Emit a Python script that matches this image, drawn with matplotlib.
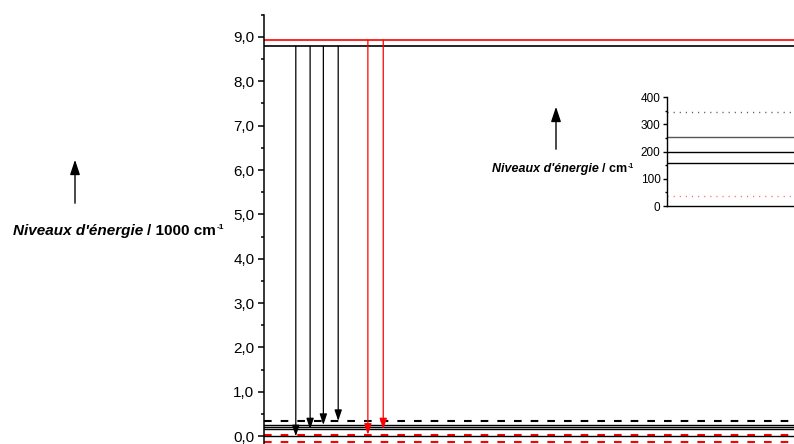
import numpy as np
import matplotlib
matplotlib.use("Agg")
import matplotlib.pyplot as plt
from matplotlib.ticker import MultipleLocator, FuncFormatter

plt.rcParams['font.family'] = ['Liberation Sans', 'DejaVu Sans']
plt.rcParams['lines.scale_dashes'] = False

# energy levels, cm-1
upper_levels = [8930, 8790]
upper_colors = ['red', 'black']
low_levels = [345, 255, 200, 157, 35, 0, -120]
low_colors = ['black', 'black', 'black', 'black', 'red', 'black', 'red']
low_styles = ['dash', 'solid', 'solid', 'solid', 'dash', 'solid', 'dash']

# transitions (arrows)
arrow_x = [6.0, 8.7, 11.2, 14.0, 19.6, 22.5]
arrow_from = [8790, 8790, 8790, 8790, 8930, 8930]
arrow_to = [0, 157, 255, 345, 35, 157]
arrow_colors = ['black', 'black', 'black', 'black', 'red', 'red']

# inset levels, cm-1
inset_levels = [345, 255, 200, 157, 35]
inset_colors = ['#555555', '#555555', 'black', 'black', '#ff6666']
inset_styles = ['dot', 'solid', 'solid', 'solid', 'dot']

fig = plt.figure(figsize=(7.94, 4.44), dpi=100)

ax = fig.add_axes([264 / 794, 0.0, 530 / 794, (444 - 14.7) / 444])
ax.set_xlim(0, 100)
ax.set_ylim(-0.175, 9.5)
for s in ['top', 'right', 'bottom']:
    ax.spines[s].set_visible(False)
ax.spines['left'].set_linewidth(1.1)
ax.set_xticks([])
ax.yaxis.set_major_locator(MultipleLocator(1.0))
ax.yaxis.set_minor_locator(MultipleLocator(0.5))
ax.yaxis.set_major_formatter(FuncFormatter(lambda v, _: f"{v:.1f}".replace('.', ',')))
ax.tick_params(axis='y', which='major', length=4, width=1.1, labelsize=11, pad=3)
ax.tick_params(axis='y', which='minor', length=2.5, width=1.1)

for e, c in zip(upper_levels, upper_colors):
    ax.axhline(e / 1000, color=c, lw=1.2)

for e, c, st in zip(low_levels, low_colors, low_styles):
    if st == 'dash':
        ax.axhline(e / 1000, color=c, lw=1.5, linestyle=(0, (5.5, 6.5)))
    else:
        ax.axhline(e / 1000, color=c, lw=1.0)

for x, y0, y1, c in zip(arrow_x, arrow_from, arrow_to, arrow_colors):
    ax.annotate('', xy=(x, y1 / 1000), xytext=(x, y0 / 1000),
                arrowprops=dict(arrowstyle='-|>,head_length=0.65,head_width=0.22',
                                color=c, lw=0.9, shrinkA=0, shrinkB=0))

# inset
ins = fig.add_axes([666.7 / 794, (444 - 206) / 444, (794 - 666.7) / 794, (206 - 97.3) / 444])
ins.set_xlim(0, 10)
ins.set_ylim(0, 400)
for s in ['top', 'right']:
    ins.spines[s].set_visible(False)
ins.spines['left'].set_linewidth(1.0)
ins.spines['bottom'].set_linewidth(1.0)
ins.set_xticks([])
ins.yaxis.set_major_locator(MultipleLocator(100))
ins.yaxis.set_minor_locator(MultipleLocator(50))
ins.tick_params(axis='y', which='major', length=3, width=1.0, labelsize=8.5, pad=1.5)
ins.tick_params(axis='y', which='minor', length=1.5, width=1.0)
for e, c, st in zip(inset_levels, inset_colors, inset_styles):
    if st == 'dot':
        ins.axhline(e, color=c, lw=1.0, linestyle=(0, (0.8, 3.6)))
    else:
        ins.axhline(e, color=c, lw=1.0)

# axis labels with arrows
def level_label(x, y, size, tail):
    t1 = fig.text(x, y, "Niveaux d'énergie", fontsize=size, fontweight='bold',
                  fontstyle='italic', ha='left', va='baseline')
    t2 = plt.annotate(tail, xy=(1, 0), xycoords=t1, xytext=(size * 0.28, 0),
                      textcoords='offset points', fontsize=size, fontweight='bold',
                      ha='left', va='bottom')
    plt.annotate('-1', xy=(1, 1), xycoords=t2, xytext=(0.5, 0),
                 textcoords='offset points', fontsize=size * 0.55, fontweight='bold',
                 ha='left', va='top')

level_label(12.7 / 794, 1 - 235 / 444, 11, '/ 1000 cm')
level_label(491.7 / 794, 1 - 172.3 / 444, 9, '/ cm')

fig.patches.append(matplotlib.patches.FancyArrowPatch(
    (75 / 794, 1 - 206 / 444), (75 / 794, 1 - 157 / 444), transform=fig.transFigure,
    arrowstyle='-|>,head_length=0.9,head_width=0.3', mutation_scale=10, color='black', lw=1.0))
fig.patches.append(matplotlib.patches.FancyArrowPatch(
    (556 / 794, 1 - 152 / 444), (556 / 794, 1 - 104 / 444), transform=fig.transFigure,
    arrowstyle='-|>,head_length=0.9,head_width=0.3', mutation_scale=10, color='black', lw=1.0))

fig.savefig('out.png', dpi=100)
